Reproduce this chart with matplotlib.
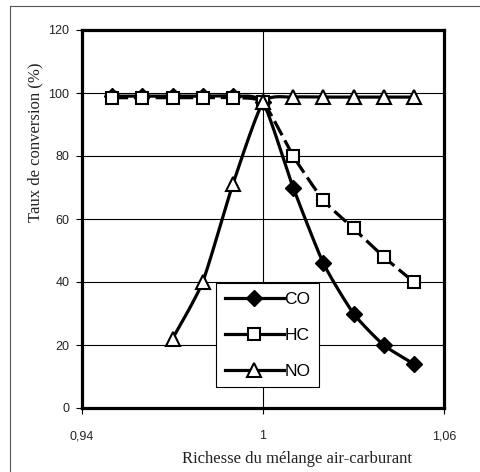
import numpy as np
import matplotlib
matplotlib.use("Agg")
import matplotlib.pyplot as plt
from matplotlib.lines import Line2D

# ---- data ----
co_x = [0.95, 0.96, 0.97, 0.98, 0.99, 1.00, 1.01, 1.02, 1.03, 1.04, 1.05]
co_y = [99, 99, 99, 99, 99, 97, 70, 46, 30, 20, 14]
hc_x = [0.95, 0.96, 0.97, 0.98, 0.99, 1.00, 1.01, 1.02, 1.03, 1.04, 1.05]
hc_y = [98.5, 98.5, 98.5, 98.5, 98.5, 97, 80, 66, 57, 48, 40]
no_x = [0.97, 0.98, 0.99, 1.00, 1.01, 1.02, 1.03, 1.04, 1.05]
no_y = [22, 40, 71, 97, 98.7, 98.7, 98.7, 98.7, 98.7]
x_ticks = [0.94, 1.00, 1.06]
x_tick_labels = ["0,94", "1", "1,06"]
y_ticks = [0, 20, 40, 60, 80, 100, 120]
labels = ["CO", "HC", "NO"]


def smooth(xs, ys, n=20, c=0.6):
    # cardinal spline smoothing of the drawn line (like Excel smoothed lines)
    P = np.column_stack([np.asarray(xs, float), np.asarray(ys, float)])
    m = len(P)
    T = np.zeros_like(P)
    for i in range(m):
        a = P[max(i - 1, 0)]; b = P[min(i + 1, m - 1)]
        T[i] = 0.5 * c * (b - a)
    out = []
    t = np.linspace(0, 1, n, endpoint=False)[:, None]
    h00 = 2 * t ** 3 - 3 * t ** 2 + 1
    h10 = t ** 3 - 2 * t ** 2 + t
    h01 = -2 * t ** 3 + 3 * t ** 2
    h11 = t ** 3 - t ** 2
    for i in range(m - 1):
        out.append(h00 * P[i] + h10 * T[i] + h01 * P[i + 1] + h11 * T[i + 1])
    out.append(P[-1][None, :])
    out = np.vstack(out)
    return out[:, 0], out[:, 1]


fig = plt.figure(figsize=(4.8, 4.72), dpi=100)
ax = fig.add_axes([82 / 480, 1 - 408 / 472, (444 - 82) / 480, (408 - 30) / 472])

lw = 2.3
ms_d, ms_s, ms_t = 8, 8.5, 9.5
# HC (dashed)
sx, sy = smooth(hc_x, hc_y)
ax.plot(sx, sy, color="black", lw=lw, linestyle=(0, (5, 1.8)), zorder=3)
ax.plot(hc_x, hc_y, linestyle="none", marker="s", ms=ms_s, mfc="white", mec="black", mew=1.5, zorder=5)
# NO
sx, sy = smooth(no_x, no_y)
ax.plot(sx, sy, color="black", lw=lw, zorder=3)
ax.plot(no_x, no_y, linestyle="none", marker="^", ms=ms_t, mfc="white", mec="black", mew=1.5, zorder=5)
# CO
sx, sy = smooth(co_x, co_y)
ax.plot(sx, sy, color="black", lw=lw, zorder=4)
ax.plot(co_x, co_y, linestyle="none", marker="D", ms=ms_d, mfc="black", mec="black", zorder=4)

ax.set_xlim(0.94, 1.06)
ax.set_ylim(0, 120)
ax.set_xticks(x_ticks)
ax.set_xticklabels(x_tick_labels)
ax.set_yticks(y_ticks)
ax.grid(True, color="black", lw=0.8)
ax.set_axisbelow(True)
for s in ax.spines.values():
    s.set_linewidth(2.3)
ax.tick_params(axis="both", direction="out", length=4, width=0.8, color="black",
               labelsize=9, labelcolor="#222222")
ax.tick_params(axis="y", pad=5)
ax.tick_params(axis="x", pad=12)
for t in ax.get_xticklabels() + ax.get_yticklabels():
    t.set_family("Liberation Sans")

handles = [
    Line2D([], [], color="black", lw=lw, marker="D", ms=ms_d, mfc="black", mec="black"),
    Line2D([], [], color="black", lw=lw, marker="s", ms=ms_s, mfc="white", mec="black", mew=1.5),
    Line2D([], [], color="black", lw=lw, marker="^", ms=ms_t, mfc="white", mec="black", mew=1.5),
]
leg = ax.legend(handles, labels, loc="upper left", bbox_to_anchor=(0.370, 0.331),
                borderaxespad=0, frameon=True, fancybox=False, edgecolor="black",
                prop={"family": "Liberation Sans", "size": 12.5}, handlelength=3.4,
                handletextpad=0.05, labelspacing=1.2, borderpad=0.5, framealpha=1)
leg.get_frame().set_linewidth(0.8)
leg.set_zorder(10)

fig.text(297 / 480, 1 - 459 / 472, "Richesse du mélange air-carburant", ha="center", va="center",
         family="Liberation Serif", fontsize=12, color="#222222")
fig.text(35 / 480, 1 - 142 / 472, "Taux de conversion (%)", ha="center", va="center", rotation=90,
         family="Liberation Serif", fontsize=12, color="#222222")

# outer border (top and left visible)
fig.add_artist(Line2D([10 / 480, 1.0], [1 - 6 / 472, 1 - 6 / 472], transform=fig.transFigure,
                      color="#555555", lw=0.8))
fig.add_artist(Line2D([10 / 480, 10 / 480], [0, 1 - 6 / 472], transform=fig.transFigure,
                      color="#555555", lw=0.8))

fig.savefig("out.png", dpi=100)
